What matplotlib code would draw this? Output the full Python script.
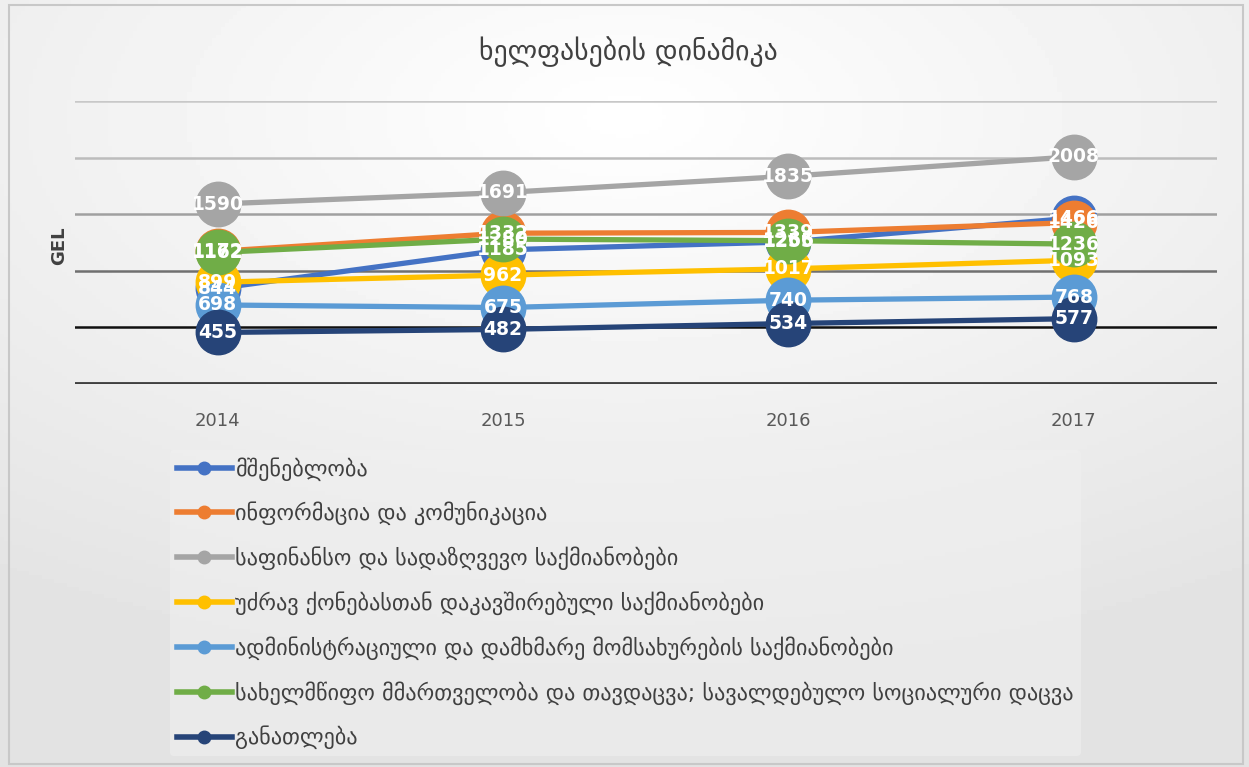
import numpy as np
import matplotlib.pyplot as plt
from matplotlib.patches import Rectangle
from matplotlib.lines import Line2D

plt.rcParams['font.family'] = ['DejaVu Sans']

years = ['2014', '2015', '2016', '2017']
title = 'ხელფასების დინამიკა'
ylabel = 'GEL'

names = [
    'მშენებლობა',
    'ინფორმაცია და კომუნიკაცია',
    'საფინანსო და სადაზღვევო საქმიანობები',
    'უძრავ ქონებასთან დაკავშირებული საქმიანობები',
    'ადმინისტრაციული და დამხმარე მომსახურების საქმიანობები',
    'სახელმწიფო მმართველობა და თავდაცვა; სავალდებულო სოციალური დაცვა',
    'განათლება',
]
construction = [844, 1185, 1255, 1466]
info_comm = [1172, 1332, 1339, 1426]
finance = [1590, 1691, 1835, 2008]
real_estate = [899, 962, 1017, 1093]
admin = [698, 675, 740, 768]
public_admin = [1162, 1280, 1266, 1236]
education = [455, 482, 534, 577]

series = [construction, info_comm, finance, real_estate, admin, public_admin, education]
colors = ['#4472c4', '#ed7d31', '#a5a5a5', '#ffc000', '#5b9bd5', '#70ad47', '#264478']

fig = plt.figure(figsize=(12.49, 7.67), dpi=100)

# background gradient
bg = fig.add_axes([0, 0, 1, 1], zorder=-10)
yy, xx = np.mgrid[0:1:200j, 0:1:300j]
r = np.sqrt(((xx - 0.5) * 1.0) ** 2 + ((yy - 0.15) * 1.2) ** 2)
bg.imshow(1 - 0.11 * np.clip(r / 0.9, 0, 1), cmap='gray', vmin=0, vmax=1,
          extent=[0, 1, 0, 1], aspect='auto', origin='upper')
bg.add_patch(Rectangle((0.007, 0.004), 0.988, 0.99, fill=False, ec='#c8c8c8', lw=1.5))
bg.set_xlim(0, 1)
bg.set_ylim(0, 1)
bg.axis('off')

ax = fig.add_axes([0.060, 0.4994, 0.914, 0.3689])
ax.set_facecolor('none')
x = np.arange(len(years))

# gridlines (shaded like the reference)
grid_colors = {500: '#101010', 1000: '#707070', 1500: '#a0a0a0', 2000: '#bcbcbc', 2500: '#c8c8c8'}
for v, c in grid_colors.items():
    ax.axhline(v, color=c, lw=1.8, zorder=0)
ax.axhline(0, color='#404040', lw=3.5, zorder=0)

for vals, name, col in zip(series, names, colors):
    ax.plot(x, vals, color=col, lw=3.8, marker='o', ms=32, mfc=col, mec=col,
            label=name, clip_on=False, zorder=3)
    for xi, v in zip(x, vals):
        ax.text(xi, v, str(v), color='white', fontsize=13.5, fontweight='bold',
                ha='center', va='center', zorder=4,
                family=['Liberation Sans Narrow', 'DejaVu Sans'])

ax.set_xlim(-0.5, 3.5)
ax.set_ylim(0, 2500)
ax.set_xticks(x)
ax.set_xticklabels(years, fontsize=13, color='#595959')
ax.tick_params(axis='x', length=0, pad=20)
ax.set_yticks([])
for s in ax.spines.values():
    s.set_visible(False)

fig.text(0.047, 0.68, ylabel, rotation=90, fontsize=13, fontweight='bold',
         color='#404040', ha='center', va='center')
fig.text(0.503, 0.933, title, fontsize=20, color='#404040', ha='center', va='center')

hs = [Line2D([], [], color=c, lw=4, marker='o', ms=9) for c in colors]
leg = fig.legend(hs, names, loc='upper left', bbox_to_anchor=(0.136, 0.413),
                 fontsize=16, frameon=True, labelspacing=0.95, handlelength=2.5,
                 handletextpad=0.15, borderpad=0.3, borderaxespad=0)
leg.get_frame().set_facecolor('#f0f0f0')
leg.get_frame().set_edgecolor('none')
leg.get_frame().set_alpha(0.6)
for t in leg.get_texts():
    t.set_color('#404040')

fig.savefig('out.png', dpi=100)
